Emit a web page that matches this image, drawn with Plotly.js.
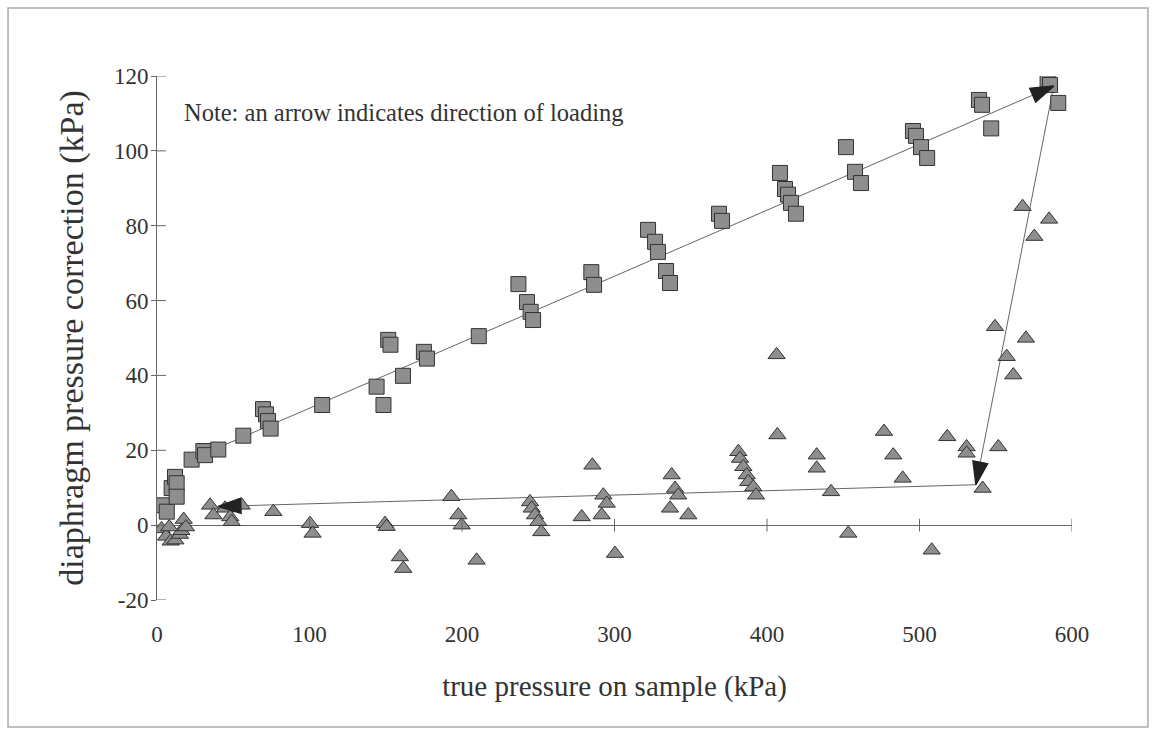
<!DOCTYPE html>
<html><head><meta charset="utf-8">
<script src="https://cdn.plot.ly/plotly-3.0.1.min.js"></script>
<style>html,body{margin:0;padding:0;background:#fff}</style>
</head><body>
<div id="chart" style="width:1158px;height:734px"></div>
<script>
// loading series (squares)
const loadX = [4, 6.4, 9.6, 11.8, 12.9, 12.9, 22.7, 30.4, 31.5, 40.2, 56.6, 69.5, 71.5, 72.8, 74.5, 108.3, 144, 148.5, 151.6, 153.1, 161.3, 175, 177, 211, 237, 242.6, 245, 246.6, 284.8, 286.6, 322, 326.6, 328.5, 333.8, 336.4, 368.5, 370.5, 408.5, 411.8, 413.8, 415.7, 419, 451.8, 457.7, 461.6, 495.7, 497.7, 501, 505, 539, 541, 547, 584, 585.6, 591];
const loadY = [5.3, 3.6, 9.9, 12.9, 11.2, 7.6, 17.5, 19.8, 18.7, 20.2, 23.9, 31, 29.6, 27.8, 25.8, 32.1, 37, 32.1, 49.5, 48.2, 39.9, 46.3, 44.5, 50.5, 64.4, 59.6, 57, 54.8, 67.6, 64.2, 78.9, 75.7, 73, 67.9, 64.7, 83.2, 81.3, 94.1, 89.8, 88.3, 86.1, 83.2, 101, 94.4, 91.4, 105.3, 104, 101, 98.1, 113.6, 112.3, 106, 119, 117.6, 112.8];
// unloading series (triangles)
const unloadX = [3, 6, 9, 12, 15, 16, 17.5, 19, 8, 34.8, 37, 44.6, 48, 49, 55.5, 76.3, 100.3, 102, 149.5, 150.6, 159.3, 161.5, 193, 197.6, 199.8, 209.6, 244.6, 245.7, 247.9, 250, 252, 278.5, 285.5, 292.7, 294.9, 291.6, 300.3, 337.5, 339.7, 341.8, 336.4, 348.4, 381.2, 382.3, 384.5, 386.7, 387.7, 391, 392.8, 406.3, 406.8, 432.6, 432.6, 442, 453.3, 476.7, 482.8, 489, 508, 518.2, 530.9, 530.9, 541.4, 551.7, 549.5, 557.2, 561.5, 569.8, 567.6, 575.3, 585];
const unloadY = [-1, -3, -4.3, -4, -2.5, -1.5, 1.5, -0.5, -0.5, 5.3, 2.7, 4.5, 2.2, 0.9, 5.3, 3.6, 0.4, -2.2, 0.4, -0.4, -8.5, -11.6, 7.6, 2.7, 0, -9.4, 6.2, 4.5, 2.7, 0.9, -1.8, 2.2, 16, 8, 5.8, 2.7, -7.6, 13.4, 9.8, 8, 4.5, 2.7, 19.6, 17.8, 15.6, 13.4, 11.6, 10.2, 8, 45.5, 24.1, 18.7, 15.2, 8.9, -2.2, 25, 18.7, 12.5, -6.7, 23.6, 20.9, 19.2, 9.8, 20.9, 53, 45, 40.1, 49.9, 85.1, 77.1, 81.7];
// direction-of-loading path (vertices)
const pathX = [22, 588, 537, 40];
const pathY = [17.5, 117.3, 10.8, 5];
const xTicks = [0, 100, 200, 300, 400, 500, 600];
const yTicks = [-20, 0, 20, 40, 60, 80, 100, 120];
const noteText = 'Note: an arrow indicates direction of loading';
const xTitle = 'true pressure on sample (kPa)';
const yTitle = 'diaphragm pressure correction (kPa)';

const FONT = 'Liberation Serif, Times New Roman, serif';
const AX = '#666';

const traces = [
  {x: pathX, y: pathY, mode: 'lines', line: {color: '#666', width: 1}, hoverinfo: 'skip', showlegend: false},
  {x: loadX, y: loadY, mode: 'markers', showlegend: false,
   marker: {symbol: 'square', size: 15, color: '#8e8e8e', line: {color: '#333', width: 1}}},
  {x: unloadX, y: unloadY, mode: 'markers', showlegend: false,
   marker: {symbol: 'triangle-up', size: 15, color: '#8e8e8e', line: {color: '#333', width: 1}}},
  {x: pathX, y: pathY, mode: 'markers', hoverinfo: 'skip', showlegend: false,
   marker: {symbol: pathX.map((v, i) => i === 0 ? 'circle' : 'arrow'), size: pathX.map((v, i) => i === 0 ? 0 : 24),
            angleref: 'previous', color: '#222', opacity: 1, line: {color: '#222', width: 1.5}}}
];

const shapes = [];
yTicks.forEach(v => shapes.push({type: 'line', xref: 'x', yref: 'y', x0: 0, x1: 5.9, y0: v, y1: v, line: {color: AX, width: 1}}));
xTicks.slice(1).forEach(v => shapes.push({type: 'line', xref: 'x', yref: 'y', x0: v, x1: v, y0: -1.7, y1: 1.7, line: {color: AX, width: 1}}));
shapes.push({type: 'rect', xref: 'paper', yref: 'paper', x0: -0.1628, x1: 1.083, y0: -0.2424, y1: 1.1298, line: {color: '#aaa', width: 1.5}});

const layout = {
  width: 1158, height: 734,
  margin: {l: 157, r: 86, t: 76, b: 134},
  paper_bgcolor: '#fff', plot_bgcolor: '#fff',
  font: {family: FONT, color: '#333', size: 23},
  xaxis: {range: [0, 600], tickvals: xTicks, ticktext: xTicks.map(String), showline: false, ticks: '',
          showgrid: false, zeroline: false, ticklabelstandoff: 18, tickfont: {size: 23, color: '#333'},
          title: {text: xTitle, font: {size: 29, color: '#333'}, standoff: 29}},
  yaxis: {range: [-20, 120], tickvals: yTicks, ticktext: yTicks.map(String), showline: true, linecolor: AX, linewidth: 1,
          ticks: 'outside', ticklen: 5, tickcolor: AX, showgrid: false,
          zeroline: true, zerolinecolor: AX, zerolinewidth: 1, ticklabelstandoff: -2, tickfont: {size: 23, color: '#333'},
          title: {text: yTitle, font: {size: 34, color: '#333'}, standoff: 20}},
  shapes: shapes,
  annotations: [{text: noteText, xref: 'paper', yref: 'paper', x: 0.0273, y: 0.931, xanchor: 'left', yanchor: 'middle',
                 showarrow: false, font: {size: 24.5, color: '#333', family: FONT}}]
};

Plotly.newPlot('chart', traces, layout, {displayModeBar: false, staticPlot: true});
</script>
</body></html>
